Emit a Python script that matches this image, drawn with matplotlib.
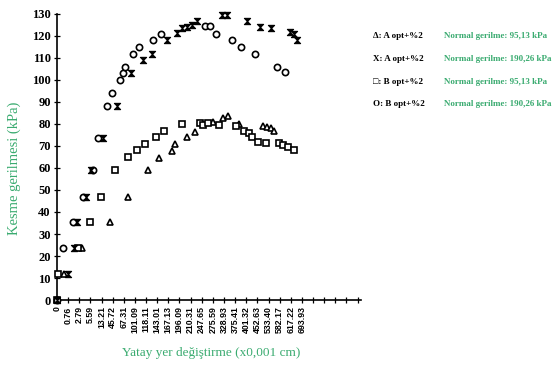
import numpy as np
import matplotlib.pyplot as plt
from matplotlib.path import Path

# yatay yer degistirme etiketleri (x0,001 cm)
x_labels = ['0', '0.76', '2.79', '5.59', '13.21', '45.72', '67.31', '101.09',
            '118.11', '143.01', '167.13', '196.09', '210.31', '247.65', '275.59',
            '328.93', '375.41', '401.32', '452.63', '533.40', '582.17', '617.22',
            '693.93']

# A opt+%2, normal gerilme 95,13 kPa (ucgen)
a95_x = [0, 0.63, 2.24, 4.76, 6.37, 8.17, 9.16, 10.32, 10.59, 11.67, 12.39,
         14.0, 14.9, 15.35, 16.34, 18.49, 18.85, 19.21, 19.48]
a95_y = [0, 12, 23.5, 35.5, 47, 59, 64.5, 67.5, 71, 74, 76.5,
         81, 82.5, 83.5, 80, 79, 78.5, 78, 77]

# A opt+%2, normal gerilme 190,26 kPa (X)
a190_x = [0, 0.99, 1.53, 1.80, 2.60, 3.05, 4.13, 5.39, 6.64, 7.72, 8.53, 9.87,
          10.77, 11.22, 11.67, 12.12, 12.57, 14.81, 15.26, 17.06, 18.22, 19.21,
          20.92, 21.27, 21.54]
a190_y = [0, 12, 23.5, 35.5, 47, 59, 73.6, 88, 103, 109, 112, 118,
          121.5, 123.5, 124, 125, 127, 129.5, 129.5, 127, 124, 123.5,
          122, 121, 118]

# B opt+%2, normal gerilme 95,13 kPa (kare)
b95_x = [0, 0.09, 1.89, 2.96, 3.95, 5.21, 6.37, 7.18, 7.90, 8.89, 9.61, 11.22,
         12.84, 13.11, 13.55, 14.54, 16.07, 16.79, 17.24, 17.51, 18.04, 18.76,
         19.93, 20.29, 20.74, 21.27]
b95_y = [0, 12, 23.5, 35.5, 47, 59, 65, 68, 71, 74, 77, 80,
         80.5, 79.5, 80.5, 79.5, 79, 77, 76, 74, 72, 71.5,
         71.3, 70.5, 69.7, 68]

# B opt+%2, normal gerilme 190,26 kPa (daire)
b190_x = [0, 0.54, 1.44, 2.33, 3.23, 3.68, 4.49, 4.94, 5.66, 5.92, 6.10, 6.82,
          7.36, 8.62, 9.34, 13.29, 13.73, 14.27, 15.71, 16.52, 17.77, 19.75,
          20.47]
b190_y = [0, 23.5, 35.5, 47, 59, 73.6, 88, 94, 100, 103, 106, 112,
          115, 118, 121, 124.5, 124.5, 121, 118, 115, 112, 106,
          103.5]

legend_keys = ['\u0394: A opt+%2', 'X: A opt+%2', '\u25a1: B opt+%2', 'O: B opt+%2']
legend_vals = ['Normal gerilme: 95,13 kPa', 'Normal gerilme: 190,26 kPa',
               'Normal gerilme: 95,13 kPa', 'Normal gerilme: 190,26 kPa']

green = '#3aab70'
serif = ['Liberation Serif', 'DejaVu Serif']

# kum saati seklinde X isareti
hourglass = Path([(-1, 1), (1, 1), (-1, -1), (1, -1), (-1, 1)],
                 [Path.MOVETO, Path.LINETO, Path.LINETO, Path.LINETO, Path.CLOSEPOLY])

fig = plt.figure(figsize=(5.55, 3.73), dpi=100)
ax = fig.add_axes([0.1027, 0.1957, 0.5477, 0.7668])

kw = dict(linestyle='none', clip_on=False, zorder=3)
ax.plot(a95_x, a95_y, marker='^', ms=4.5, mfc='white', mec='black', mew=1.2, **kw)
ax.plot(b95_x, b95_y, marker='s', ms=4.3, mfc='white', mec='black', mew=1.2, **kw)
ax.plot(b190_x, b190_y, marker='o', ms=4.5, mfc='white', mec='black', mew=1.2, **kw)
ax.plot(a190_x, a190_y, marker=hourglass, ms=4.5, mfc='black', mec='black', mew=0.8, **kw)

ax.set_xlim(0, 27.3)
ax.set_ylim(0, 130)
ax.spines['top'].set_visible(False)
ax.spines['right'].set_visible(False)
ax.spines['left'].set_linewidth(1.2)
ax.spines['bottom'].set_linewidth(1.2)

ticks = np.arange(0, 28)
ax.set_xticks(ticks)
ax.set_xticklabels(x_labels + [''] * (len(ticks) - len(x_labels)),
                   rotation=90, fontsize=6.3, fontweight='bold',
                   family=['Liberation Sans', 'DejaVu Sans'])
ax.set_yticks(np.arange(0, 131, 10))
for t in ax.get_yticklabels():
    t.set_family(serif)
    t.set_fontsize(9)
    t.set_fontweight('bold')
ax.tick_params(axis='both', direction='inout', length=5, width=0.9, pad=2)

fig.text(14 / 555, 1 - 168 / 373, 'Kesme gerilmesi (kPa)', rotation=90,
         color=green, fontsize=10.5, family=serif, ha='center', va='center')
fig.text(211 / 555, 1 - 353 / 373, 'Yatay yer de\u011fi\u015ftirme (x0,001 cm)',
         color=green, fontsize=9.5, family=serif, ha='center', va='center')

rows = [36, 59, 82, 104]
for yy, k, v in zip(rows, legend_keys, legend_vals):
    fig.text(373 / 555, 1 - yy / 373, k, fontsize=6.5, fontweight='bold',
             family=serif, va='center')
    fig.text(444 / 555, 1 - yy / 373, v, fontsize=6.5, fontweight='bold',
             family=serif, color=green, va='center')

fig.savefig('out.png', dpi=100)
